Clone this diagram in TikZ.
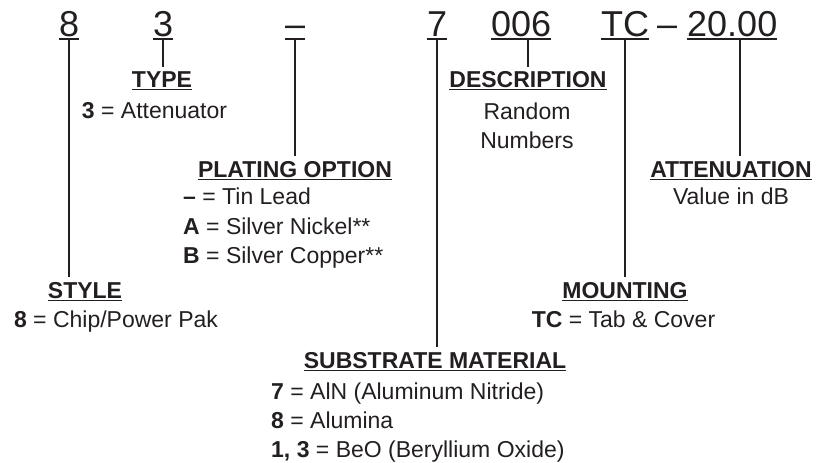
\documentclass[tikz,border=0pt]{standalone}
\usepackage{fontspec}
\setmainfont{Liberation Sans}
\definecolor{ink}{HTML}{231F20}
\newcommand\codefont{\fontsize{36}{40}\selectfont}
\newcommand\hdfont{\fontsize{23}{28}\selectfont\bfseries}
\newcommand\txtfont{\fontsize{23}{29}\selectfont}

\begin{document}
\begin{tikzpicture}[x=1pt,y=-1pt,color=ink,
    code/.style={font=\codefont,anchor=base west,inner xsep=0pt,inner ysep=3pt,text depth=0pt},
    hd/.style={font=\hdfont,anchor=base,inner xsep=0pt,inner ysep=2pt,text depth=0pt},
    txt/.style={font=\txtfont,inner sep=0pt},
    lead/.style={line width=1.8pt,shorten >=2.5pt},
    ul/.style={line width=1.2pt}]
  \useasboundingbox (0,0) rectangle (828,463);
  % part number
  \node[code] (c8) at (59,36) {8};
  \node[code] (c3) at (153,36) {3};
  \node[code] (cpl) at (285,36) {--};
  \node[code] (c7) at (427,36) {7};
  \node[code] (cds) at (491,36) {006};
  \node[code] (ctc) at (601,36) {TC};
  \node[code] (csep) at (657,36) {--};
  \node[code] (cat) at (687,36) {20.00};
  \foreach \n in {c8,c3,cpl,c7,cds,ctc,cat}
    \draw[line width=1.5pt] (\n.south west) -- (\n.south east);
  % headings
  \node[hd] (ty) at (162,87.5) {TYPE};
  \node[hd] (dsc) at (528,87.5) {DESCRIPTION};
  \node[hd] (pl) at (295,177) {PLATING OPTION};
  \node[hd] (att) at (731,177) {ATTENUATION};
  \node[hd] (sty) at (85,298) {STYLE};
  \node[hd] (mnt) at (625,298) {MOUNTING};
  \node[hd] (sbs) at (435,368) {SUBSTRATE MATERIAL};
  \foreach \n in {ty,dsc,pl,att,sty,mnt,sbs}
    \draw[ul] (\n.south west) -- (\n.south east);
  % values
  \node[txt,anchor=base] (tyv) at (154.5,118) {\textbf{3} = Attenuator};
  \node[txt,anchor=base] (dsc1) at (527,119) {Random};
  \node[txt,anchor=base] (dsc2) at (527,148) {Numbers};
  \foreach \k/\v [count=\i] in {--/Tin Lead, A/Silver Nickel**, B/Silver Copper**}
    \node[txt,anchor=base west] (pl\i) at (183,175+29.5*\i) {\textbf{\k} = \v};
  \node[txt,anchor=base] (attv) at (731,204) {Value in dB};
  \node[txt,anchor=base] (styv) at (116,327) {\textbf{8} = Chip/Power Pak};
  \node[txt,anchor=base] (mntv) at (623.5,327) {\textbf{TC} = Tab \& Cover};
  \foreach \k/\v [count=\i] in {7/AlN (Aluminum Nitride), 8/Alumina, {1, 3}/BeO (Beryllium Oxide)}
    \node[txt,anchor=base west] (sbs\i) at (271,370+29*\i) {\textbf{\k} = \v};
  % leaders
  \draw[lead] (c8.south) -- (c8.south |- sty.north);
  \draw[lead] (c3.south) -- (c3.south |- ty.north);
  \draw[lead] (cpl.south) -- (cpl.south |- pl.north);
  \draw[lead] (c7.south) -- (c7.south |- sbs.north);
  \draw[lead] (dsc.north |- cds.south) -- (dsc.north);
  \draw[lead] (ctc.south) -- (ctc.south |- mnt.north);
  \draw[lead] ([xshift=8pt]cat.south) -- ([xshift=8pt]cat.south |- att.north);
\end{tikzpicture}
\end{document}
